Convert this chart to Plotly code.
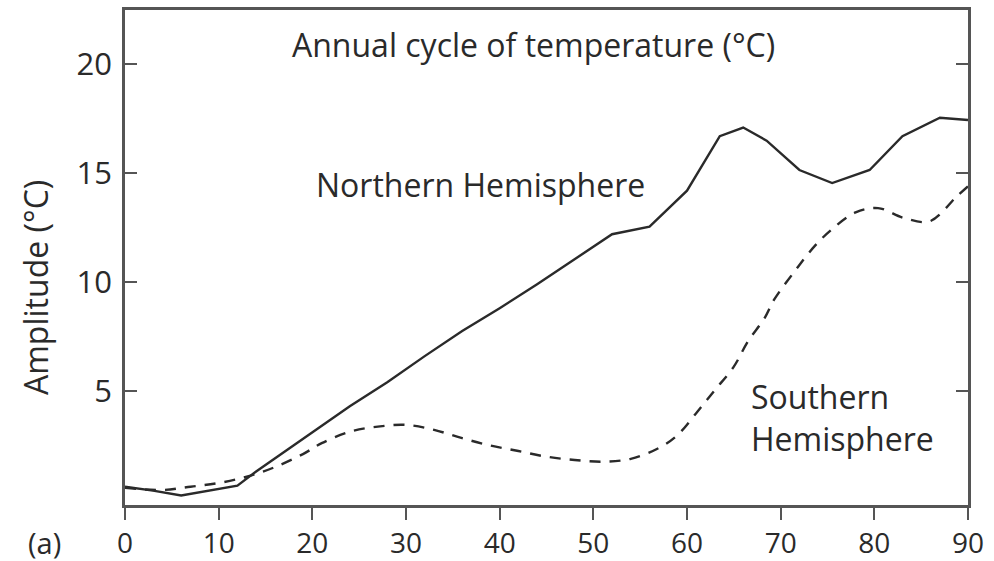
import plotly.graph_objects as go

# Latitude (degrees) and annual-cycle amplitude (°C)
lat_north = [0, 3, 6, 9, 12, 14, 17, 20, 24, 28, 32, 36, 40, 44, 48, 52, 56, 60,
             63.5, 66, 68.5, 72, 75.5, 79.5, 83, 87, 90]
amp_north = [0.6, 0.42, 0.2, 0.42, 0.65, 1.3, 2.2, 3.1, 4.3, 5.4, 6.6, 7.75, 8.8,
             9.9, 11.05, 12.2, 12.55, 14.2, 16.7, 17.1, 16.5, 15.15, 14.55, 15.15,
             16.7, 17.55, 17.45]

lat_south = [0, 4, 7, 10, 13, 16, 19, 21, 24, 27, 30, 33, 36, 39, 42, 45, 48, 51,
             54, 57, 59, 61, 63, 65, 66.5, 68.3, 69.3, 71.5, 73.6, 75.4, 78, 80.4,
             83.2, 85.9, 88.8, 90]
amp_south = [0.55, 0.45, 0.6, 0.77, 1.06, 1.5, 2.1, 2.6, 3.13, 3.36, 3.44, 3.21,
             2.83, 2.49, 2.24, 1.98, 1.83, 1.75, 1.88, 2.38, 2.98, 3.99, 5.05, 6.12,
             7.27, 8.36, 9.19, 10.5, 11.64, 12.4, 13.2, 13.4, 12.94, 12.79, 13.94, 14.4]

x_ticks = [0, 10, 20, 30, 40, 50, 60, 70, 80, 90]
y_ticks = [5, 10, 15, 20]

FONT = "Open Sans"
INK = "#2a2a2a"
AXIS = "#555555"
TEXT_SIZE = 32
TICK_SIZE = 31
XTICK_SIZE = 28

fig = go.Figure()
fig.add_trace(go.Scatter(x=lat_north, y=amp_north, mode="lines",
                         line=dict(color=INK, width=2.4), name="Northern Hemisphere"))
fig.add_trace(go.Scatter(x=lat_south, y=amp_south, mode="lines", line_shape="spline",
                         line=dict(color=INK, width=2.4, dash="11px,9px"),
                         name="Southern Hemisphere"))

fig.update_layout(
    width=994, height=561,
    margin=dict(l=125, r=26, t=10, b=56),
    plot_bgcolor="white", paper_bgcolor="white",
    showlegend=False,
    font=dict(family=FONT, size=TEXT_SIZE, color=INK),
)
fig.update_xaxes(
    range=[0, 90], tickvals=x_ticks, ticktext=[str(v) for v in x_ticks],
    ticks="outside", ticklen=12, tickwidth=2, tickcolor=AXIS,
    showline=True, linecolor=AXIS, linewidth=2.5, mirror=True,
    showgrid=False, zeroline=False, ticklabelstandoff=0, automargin=False,
    tickfont=dict(family=FONT, size=XTICK_SIZE, color=INK),
)
fig.update_yaxes(
    range=[-0.24, 22.5], tickvals=y_ticks, ticktext=[str(v) for v in y_ticks],
    ticks="inside", ticklen=12, tickwidth=2, tickcolor=AXIS,
    showline=True, linecolor=AXIS, linewidth=2.5, mirror="ticks",
    showgrid=False, zeroline=False, ticklabelstandoff=4, automargin=False,
    tickfont=dict(family=FONT, size=TICK_SIZE, color=INK),
)

fig.add_annotation(xref="x", yref="y", x=43.6, y=20.9, text="Annual cycle of temperature (°C)",
                   showarrow=False)
fig.add_annotation(xref="x", yref="y", x=38.0, y=14.5, text="Northern Hemisphere",
                   showarrow=False)
fig.add_annotation(xref="x", yref="y", x=66.6, y=3.8, text="Southern<br>Hemisphere",
                   showarrow=False, xanchor="left", align="left")
fig.add_annotation(xref="paper", yref="paper", x=-0.107, y=0.44, text="Amplitude (°C)",
                   textangle=-90, showarrow=False, xanchor="center", yanchor="middle")
fig.add_annotation(xref="paper", yref="paper", x=-0.117, y=-0.075, text="(a)",
                   showarrow=False, xanchor="left", yanchor="middle",
                   font=dict(size=XTICK_SIZE + 1))

fig.write_html("out.html")
